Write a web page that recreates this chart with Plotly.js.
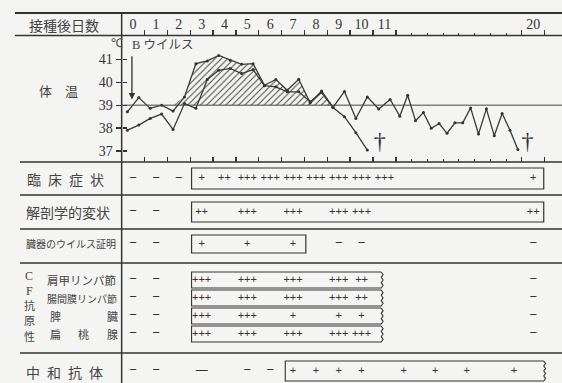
<!DOCTYPE html>
<html><head><meta charset="utf-8">
<script src="https://cdn.plot.ly/plotly-3.0.1.min.js"></script>
<style>html,body{margin:0;padding:0;background:#f4f4f2}</style>
</head><body><div id="chart" style="width:562px;height:383px"></div>
<script>
// ---------------- data ----------------
const dayLabels = [0,1,2,3,4,5,6,7,8,9,10,11,20];
const majorTickDays = [1,2,3,4,5,6,7,8,9,10,11,12,20,21];
const minorTickDays = [13,14,15,16,17,18,19];
const tempTicks = [37,38,39,40,41];
const normalTemp = 39;

const tempTimesA = [0.25,0.75,1.25,1.75,2.25,2.75,3.25,3.75,4.25,4.75,5.25,5.75,6.25,6.75,7.25,7.75,8.25,8.75,9.25,9.75,10.25,10.75,11.25,11.75,12.25,12.75,13.25,13.75,14.25,14.75,15.25,15.75,16.25,16.75,17.25,17.75,18.25,18.75,19.25,19.75];
const tempA = [38.71,39.33,38.86,39.0,38.74,39.36,40.81,40.93,41.17,40.96,40.78,40.81,39.87,40.12,39.65,40.13,39.1,39.62,38.9,39.6,38.42,39.36,38.83,39.25,38.52,39.43,38.32,38.68,37.99,38.2,37.77,38.23,38.23,38.88,37.74,38.84,37.67,38.64,37.91,37.07];
const tempTimesB = [0.25,0.75,1.25,1.75,2.25,2.75,3.25,3.75,4.25,4.75,5.25,5.75,6.25,6.75,7.25,7.75,8.25,8.75,9.25,9.75,10.25,10.75];
const tempB = [37.91,38.13,38.42,38.61,37.94,39.07,38.86,40.12,40.52,40.6,40.38,40.55,39.85,39.8,39.58,39.58,39.15,39.55,38.9,38.5,37.8,37.04];
const hatchRange = [2.25, 9.25];
const deathDays = [11.3, 20.25];
const inoculationDay = 0.45;

const clinicalDays  = [0,1,2,3,4,5,6,7,8,9,10,11,20];
const clinicalMarks = ['−','−','−','+','++','+++','+++','+++','+++','+++','+++','+++','+'];
const clinicalSpan  = [3,21];
const anatomyDays   = [0,1,3,5,7,9,10,20];
const anatomyMarks  = ['−','−','++','+++','+++','+++','+++','++'];
const anatomySpan   = [3,21];
const virusDays     = [0,1,3,5,7,9,10,20];
const virusMarks    = ['−','−','+','+','+','−','−','−'];
const virusSpan     = [3,8.1];
const cfDays        = [0,1,3,5,7,9,10,20];
const cfScapular    = ['−','−','+++','+++','+++','+++','++','−'];
const cfMesenteric  = ['−','−','+++','+++','+++','+++','++','−'];
const cfSpleen      = ['−','−','+++','+++','+','+','+','−'];
const cfTonsil      = ['−','−','+++','+++','+++','+++','+++','−'];
const cfSpan        = [3,11.4];
const abDays        = [0,1,3,5,6,7,8,9,10,12,14,16,19];
const abMarks       = ['−','−','—','−','−','+','+','+','+','+','+','+','+'];
const abSpan        = [7.1,21];

// ---------------- layout helpers ----------------
const W=562, H=383;
const X0=121.65, DX=22.85;          // pixel of day 0 boundary, px per day
const COMP=0.689;                   // compressed scale days 12-20
const U = d => d<=12 ? d : (d<=20 ? 12+(d-12)*COMP : 12+8*COMP+(d-20));
const xr=[-X0/DX,(W-X0)/DX];
const T41=59.3, DT=22.93;
const yr=[41-(H-T41)/DT, 41+T41/DT];
const INK='#333', CJK='Noto Sans CJK JP', SERIF='Liberation Serif';

const traces=[];
// hatch
const hx=[],hy=[],hb=[];
tempTimesA.forEach((t,i)=>{ if(t>=hatchRange[0]&&t<=hatchRange[1]){hx.push(U(t));hy.push(Math.max(tempA[i],normalTemp));hb.push(normalTemp);} });
traces.push({x:hx,y:hb,mode:'lines',line:{width:0},hoverinfo:'skip'});
traces.push({x:hx,y:hy,mode:'lines',line:{width:0},fill:'tonexty',fillcolor:'rgba(0,0,0,0)',
  fillpattern:{shape:'/',size:4.5,solidity:0.22,fgcolor:'#444',bgcolor:'rgba(0,0,0,0)'},hoverinfo:'skip'});
traces.push({x:tempTimesA.map(U),y:tempA,mode:'lines+markers',line:{color:'#3a3a3a',width:1.3},marker:{size:3,color:'#333'}});
traces.push({x:tempTimesB.map(U),y:tempB,mode:'lines+markers',line:{color:'#3a3a3a',width:1.3},marker:{size:3,color:'#333'}});
traces.push({x:deathDays.map(U),y:deathDays.map(()=>37.35),mode:'text',text:deathDays.map(()=>'†'),
  textfont:{family:SERIF,size:24,color:INK},textposition:'middle center'});
// day labels
traces.push({x:dayLabels.map(d=>U(d+0.5)),y:dayLabels.map(()=>25),yaxis:'y2',mode:'text',
  text:dayLabels.map(String),textfont:{family:SERIF,size:14,color:INK},textposition:'middle center'});
// rows
const sz = m => m==='—'?12:(m==='−'?13:11);
function markRow(days,marks,y){
  traces.push({x:days.map(d=>U(d+0.5)),y:days.map(()=>y),yaxis:'y2',mode:'text',text:marks,
    textfont:{family:'Liberation Sans Narrow, Liberation Sans',size:marks.map(sz),color:INK},textposition:'middle center'});
}
markRow(clinicalDays,clinicalMarks,178.5);
markRow(anatomyDays,anatomyMarks,212);
markRow(virusDays,virusMarks,244);
markRow(cfDays,cfScapular,280);
markRow(cfDays,cfMesenteric,298);
markRow(cfDays,cfSpleen,316);
markRow(cfDays,cfTonsil,334);
markRow(abDays,abMarks,371);
// dummy traces for extra axes
traces.push({x:[null],y:[null],xaxis:'x2',yaxis:'y',hoverinfo:'skip'});
traces.push({x:[null],y:[null],xaxis:'x',yaxis:'y3',hoverinfo:'skip'});

// shapes
const shapes=[];
const hline=(y,x0,w)=>shapes.push({type:'line',xref:'paper',yref:'y2',x0:x0/W,x1:1,y0:y,y1:y,line:{color:'#333',width:w}});
hline(13,15,2.2); hline(35.5,15,1.5); hline(162,20,1.5);
hline(195,20,1.3); hline(229,20,1.3); hline(263,20,1.3); hline(353,20,1.5);
shapes.push({type:'line',xref:'x',yref:'y2',x0:U(0),x1:U(0),y0:12,y1:H,line:{color:'#333',width:1.5}});
shapes.push({type:'line',xref:'paper',yref:'y',x0:X0/W,x1:1,y0:normalTemp,y1:normalTemp,line:{color:'#444',width:1}});
function box(span,y0,y1,wavy){
  const a=U(span[0])+0.06, b=U(span[1])-0.04;
  if(!wavy){ shapes.push({type:'rect',xref:'x',yref:'y2',x0:a,x1:b,y0:y0,y1:y1,line:{color:'#333',width:1.2}}); return; }
  let p=`M${b},${y0} L${a},${y0} L${a},${y1} L${b},${y1}`;
  const n=Math.max(4,Math.round((y1-y0)/2.5));
  for(let i=1;i<=n;i++){ const yy=y1-(y1-y0)*i/n; const xx=b+(i%2?0.08:0); p+=` L${xx},${yy}`; }
  shapes.push({type:'path',xref:'x',yref:'y2',path:p,line:{color:'#333',width:1.1}});
}
box(clinicalSpan,168,189,false);
box(anatomySpan,202,222,false);
box(virusSpan,235,253,false);
box(cfSpan,272,288,true); box(cfSpan,290,306,true); box(cfSpan,308,324,true); box(cfSpan,326,342,true);
box(abSpan,361,381,true);

// annotations (text labels)
const ann=[];
const LC='#444';
const lab=(t,x,y,size,fam,anchor)=>ann.push({text:t,xref:'paper',yref:'y2',x:x/W,y:y,showarrow:false,
  xanchor:anchor||'center',yanchor:'middle',font:{family:fam||CJK,size:size,color:LC}});
const es='\u2002';
lab('接種後日数',64,25,14);
lab('体　温',58,90,13);
lab(['臨','床','症','状'].join(es),65,179,14);
lab('解剖学的変状',68,212,14);
lab('臓器のウイルス証明',71,243,10);
lab('C',29,276,12,SERIF); lab('F',29,290.5,12,SERIF);
lab('抗',29,305,11); lab('原',29,319.5,11); lab('性',29,335.5,11);
lab('肩甲リンパ節',45,280,11.5,CJK,'left');
lab('腸間膜リンパ節',45,298,10,CJK,'left');
lab('脾',55,316,11); lab('臓',112,316,11);
lab('扁',55,334,11); lab('桃',83,334,11); lab('腺',112,334,11);
lab(['中','和','抗','体'].join(es),64,372,14);
lab('℃',117,43,12,SERIF);
ann.push({text:'B ウイルス',xref:'x',yref:'y',x:U(0.37),y:41+(T41-45)/DT,showarrow:false,xanchor:'left',yanchor:'middle',
  font:{family:SERIF+', '+CJK,size:12.5,color:LC}});
ann.push({text:'',xref:'x',yref:'y',x:U(inoculationDay),y:39.25,axref:'x',ayref:'y',ax:U(inoculationDay),ay:41.2,
  showarrow:true,arrowhead:2,arrowsize:1,arrowwidth:1.3,arrowcolor:'#333'});

const tickMajor=majorTickDays.map(U), tickMinor=minorTickDays.map(U);
const xcommon={range:xr,domain:[0,1],anchor:'free',showgrid:false,zeroline:false,showline:false,showticklabels:false,
  ticks:'inside',tickmode:'array',tickvals:tickMajor,tickcolor:'#333',tickwidth:1.3,fixedrange:true,
  minor:{ticks:'inside',tickvals:tickMinor,ticklen:3,tickwidth:1,tickcolor:'#333'}};
const layout={
  width:W,height:H,margin:{l:0,r:0,t:0,b:0,pad:0},paper_bgcolor:'#f4f4f2',plot_bgcolor:'rgba(0,0,0,0)',
  showlegend:false,hovermode:false,
  xaxis:Object.assign({},xcommon,{position:1-35.5/H,ticklen:6}),
  xaxis2:Object.assign({},xcommon,{overlaying:'x',position:1-162/H,ticklen:5}),
  yaxis:{range:yr,domain:[0,1],anchor:'free',position:X0/W,tickmode:'array',tickvals:tempTicks,ticks:'outside',ticklen:6,
    tickwidth:1.2,tickcolor:'#333',showgrid:false,zeroline:false,showline:false,fixedrange:true,
    tickfont:{family:SERIF,size:14,color:INK}},
  yaxis2:{range:[H,0],domain:[0,1],overlaying:'y',visible:false,fixedrange:true},
  yaxis3:{range:yr,domain:[0,1],overlaying:'y',anchor:'free',position:X0/W,tickmode:'array',tickvals:tempTicks,ticks:'inside',ticklen:4,
    tickwidth:1.2,tickcolor:'#333',showticklabels:false,showgrid:false,zeroline:false,showline:false,fixedrange:true},
  shapes:shapes,annotations:ann
};
Plotly.newPlot('chart',traces,layout,{staticPlot:true,displayModeBar:false});
</script></body></html>
